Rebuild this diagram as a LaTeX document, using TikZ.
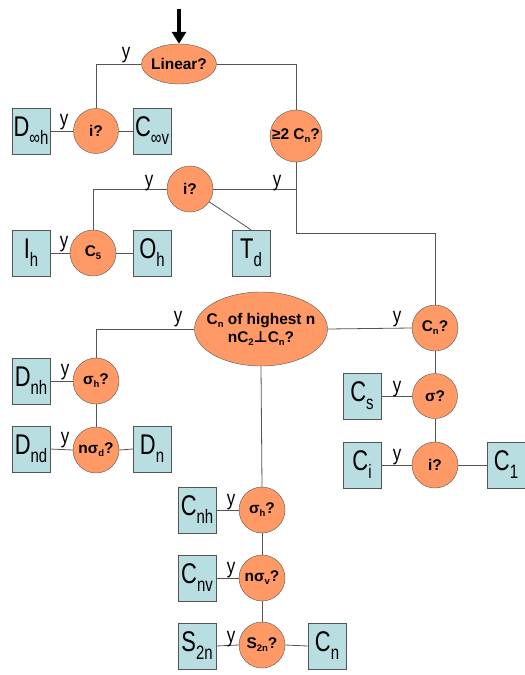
\documentclass[tikz,border=0pt]{standalone}
\usepackage{fontspec}
\setmainfont{Liberation Sans}
\newfontfamily\dejavu{DejaVu Sans}
\usetikzlibrary{shapes.geometric,arrows.meta}
\definecolor{qorange}{RGB}{255,153,102}
\definecolor{qbox}{RGB}{185,222,225}
\definecolor{qline}{RGB}{85,85,85}
\newcommand{\bx}[2]{\scalebox{1}[1.3]{#1\raisebox{-0.28em}{\fontsize{15}{15}\selectfont #2}}}
\newcommand{\sbs}[1]{\raisebox{-0.2em}{\fontsize{9.5}{9.5}\selectfont #1}}
\newcommand{\yy}{\scalebox{1}[1.25]{y}}
\begin{document}
\begin{tikzpicture}[x=1bp,y=-1bp,
  q/.style={circle,draw=qline,fill=qorange,inner sep=0pt,font=\fontsize{15.5}{16}\selectfont\bfseries},
  qe/.style={ellipse,draw=qline,fill=qorange,inner sep=0pt},
  qetext/.style={label={[font=\fontsize{15.5}{18}\selectfont\bfseries,align=center,inner sep=0pt]center:#1}},
  res/.style={rectangle,draw=qline,fill=qbox,minimum width=38bp,minimum height=46bp,inner sep=0pt,font=\fontsize{22}{22}\selectfont},
  lbl/.style={inner sep=0pt,font=\fontsize{17}{17}\selectfont},
  con/.style={draw=qline,line width=0.8bp}]
\useasboundingbox (0,0) rectangle (525,675);
% top
\coordinate (start) at (179,9);
\node[qe,minimum width=75bp,minimum height=40bp,qetext={Linear?}] (lin) at (179,64) {};
\node[q,minimum size=45bp] (i1) at (96,131) {i?};
\node[res] (dinf) at (31,131) {\bx{D}{∞h}};
\node[res] (cinf) at (152,131) {\bx{C}{∞v}};
\node[q,minimum size=52bp] (ge2) at (296,136) {≥2 C\sbs{n}?};
\node[q,minimum size=46bp] (i2) at (190,189) {i?};
\node[q,minimum size=46bp] (c5) at (93,253) {C\sbs{5}};
\node[res] (ih) at (31,253) {\bx{I}{h}};
\node[res] (oh) at (152,253) {\bx{O}{h}};
\node[res] (td) at (251,253) {\bx{T}{d}};
\coordinate (turn) at (296,233);
% middle
\node[qe,minimum width=133bp,minimum height=74bp,qetext={C\sbs{n} of highest n\\nC\sbs{2}{\dejavu\bfseries ⊥}C\sbs{n}?}] (big) at (261,329) {};
\node[q,minimum size=46bp] (sh1) at (96,381) {σ\sbs{h}?};
\node[res] (dnh) at (31,381) {\bx{D}{nh}};
\node[q,minimum size=46bp] (nsd) at (96,450) {nσ\sbs{d}?};
\node[res] (dnd) at (31,449) {\bx{D}{nd}};
\node[res] (dn) at (152,449) {\bx{D}{n}};
\node[q,minimum size=46bp] (cnq) at (435,328) {C\sbs{n}?};
\node[q,minimum size=45bp] (sig) at (435,396) {σ?};
\node[res] (cs) at (362,396) {\bx{C}{s}};
\node[q,minimum size=46bp] (i3) at (435,465) {i?};
\node[res] (ci) at (362,465) {\bx{C}{i}};
\node[res] (c1) at (506,465) {\bx{C}{1}};
% bottom
\node[q,minimum size=46bp] (sh2) at (262,510) {σ\sbs{h}?};
\node[res] (cnh) at (197,510) {\bx{C}{nh}};
\node[q,minimum size=46bp] (nsv) at (262,578) {nσ\sbs{v}?};
\node[res] (cnv) at (197,578) {\bx{C}{nv}};
\node[q,minimum size=46bp] (s2n) at (262,645) {S\sbs{2n}?};
\node[res] (s2nb) at (197,646) {\bx{S}{2n}};
\node[res] (cnb) at (327,646) {\bx{C}{n}};
% connectors
\draw[line width=3.2bp,-{Triangle[length=12bp,width=14bp]}] (start) -- (lin.north);
\draw[con] (lin.west) -| (i1.north);
\draw[con] (lin.east) -| (ge2.north);
\draw[con] (dinf.east) -- (i1.west);
\draw[con] (i1.east) -- (cinf.west);
\draw[con] (ge2.south) -- (turn) -| (cnq.north);
\draw[con] (i2.east) -- (i2.east -| turn);
\draw[con] (i2.west) -| (c5.north);
\draw[con] (i2) -- (td.north);
\draw[con] (ih.east) -- (c5.west);
\draw[con] (c5.east) -- (oh.west);
\draw[con] (big.west) -| (sh1.north);
\draw[con] (big.east) -- (cnq.west);
\draw[con] (big.south) -- (sh2.north);
\draw[con] (dnh.east) -- (sh1.west);
\draw[con] (sh1.south) -- (nsd.north);
\draw[con] (dnd.east) -- (nsd.west);
\draw[con] (nsd.east) -- (dn.west);
\draw[con] (cnq.south) -- (sig.north);
\draw[con] (cs.east) -- (sig.west);
\draw[con] (sig.south) -- (i3.north);
\draw[con] (ci.east) -- (i3.west);
\draw[con] (i3.east) -- (c1.west);
\draw[con] (cnh.east) -- (sh2.west);
\draw[con] (sh2.south) -- (nsv.north);
\draw[con] (cnv.east) -- (nsv.west);
\draw[con] (nsv.south) -- (s2n.north);
\draw[con] (s2nb.east) -- (s2n.west);
\draw[con] (s2n.east) -- (cnb.west);
% y labels
\node[lbl] (y1) at (126,55) {\yy};
\node[lbl] (y2) at (64,122) {\yy};
\node[lbl] (y3) at (149,183) {\yy};
\node[lbl] (y4) at (277,183) {\yy};
\node[lbl] (y5) at (64,244) {\yy};
\node[lbl] (y6) at (178,319) {\yy};
\node[lbl] (y7) at (397,319) {\yy};
\node[lbl] (y8) at (65,372) {\yy};
\node[lbl] (y9) at (65,440) {\yy};
\node[lbl] (y10) at (397,389) {\yy};
\node[lbl] (y11) at (397,457) {\yy};
\node[lbl] (y12) at (231,502) {\yy};
\node[lbl] (y13) at (231,570) {\yy};
\node[lbl] (y14) at (231,639) {\yy};
\end{tikzpicture}
\end{document}
